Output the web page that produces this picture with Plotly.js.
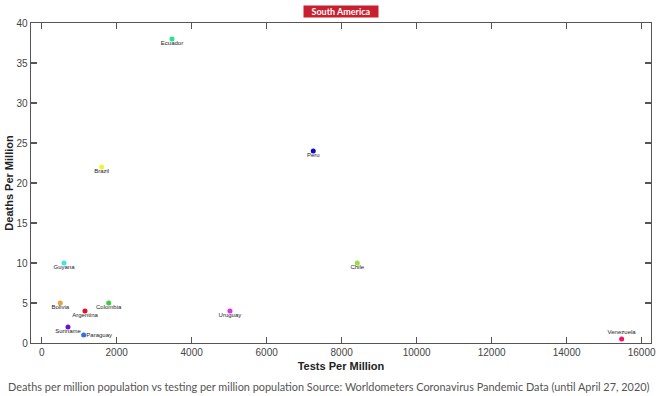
<!DOCTYPE html>
<html>
<head>
<meta charset="utf-8">
<script src="https://cdn.plot.ly/plotly-3.0.1.min.js"></script>
<style>
html,body{margin:0;padding:0;background:#fff;}
#chart{width:660px;height:396px;}
</style>
</head>
<body>
<div id="chart"></div>
<script>
var countries = ["Ecuador","Peru","Brazil","Guyana","Chile","Bolivia","Colombia","Argentina","Uruguay","Suriname","Paraguay","Venezuela"];
var testsPerMillion = [3475, 7243, 1600, 595, 8417, 496, 1787, 1155, 5021, 701, 1120, 15467];
var deathsPerMillion = [38, 24, 22, 10, 10, 5, 5, 4, 4, 2, 1, 0.5];
var pointColors = ["#1ee88a","#0a0ac8","#f2f23a","#3ae6e6","#9ade3a","#e8a040","#3ccc3c","#e0102a","#e030e0","#6414d2","#3070e0","#f5106a"];
var labelPositions = ["bottom center","bottom center","bottom center","bottom center","bottom center","bottom center","bottom center","bottom center","bottom center","bottom center","middle right","top center"];
var xTicks = [0,2000,4000,6000,8000,10000,12000,14000,16000];
var yTicks = [0,5,10,15,20,25,30,35,40];

// invisible spacer markers set the label gap per text position
var gapByPosition = {"bottom center": 1.2, "middle right": 2.6, "top center": 3.5};

var markerTrace = {
  type: "scatter",
  mode: "markers",
  x: testsPerMillion,
  y: deathsPerMillion,
  text: countries,
  marker: {color: pointColors, size: 5},
  hoverinfo: "x+y+text"
};
var labelTrace = {
  type: "scatter",
  mode: "markers+text",
  x: testsPerMillion,
  y: deathsPerMillion,
  text: countries,
  textposition: labelPositions,
  textfont: {family: "Liberation Sans, Arial, sans-serif", size: 6, color: "#222"},
  marker: {size: labelPositions.map(function(p){ return gapByPosition[p]; }), opacity: 0, color: "#fff"},
  hoverinfo: "skip"
};

var axisCommon = {
  showgrid: false, zeroline: false, showline: true, linecolor: "#555", linewidth: 1.3,
  mirror: "ticks", ticks: "inside", ticklen: 6, tickwidth: 1.3, tickcolor: "#555",
  tickfont: {family: "Liberation Sans, Arial, sans-serif", size: 10, color: "#444"}
};

var layout = {
  width: 660, height: 396,
  margin: {l: 31, r: 9, t: 23, b: 53},
  paper_bgcolor: "#fff", plot_bgcolor: "#fff",
  showlegend: false,
  xaxis: Object.assign({}, axisCommon, {
    range: [-285, 16250], tickvals: xTicks, ticktext: xTicks.map(String),
    title: {text: "<b>Tests Per Million</b>", font: {family: "Liberation Sans, Arial, sans-serif", size: 11, color: "#222"}, standoff: 5}
  }),
  yaxis: Object.assign({}, axisCommon, {
    range: [0, 40], tickvals: yTicks, ticktext: yTicks.map(String),
    title: {text: "<b>Deaths Per Million</b>", font: {family: "Liberation Sans, Arial, sans-serif", size: 11, color: "#222"}, standoff: 0}
  }),
  annotations: [
    {text: "<b>South America</b>", xref: "paper", yref: "paper", x: 0.5, y: 1, yshift: 12, xanchor: "center", yanchor: "middle",
     showarrow: false, bgcolor: "#c8202f", font: {family: "Lato, Open Sans, sans-serif", size: 9, color: "#fff"}, borderpad: 1, width: 72, height: 9},
    {text: "Deaths per million population vs testing per million population Source: Worldometers Coronavirus Pandemic Data (until April 27, 2020)",
     xref: "paper", yref: "paper", x: 0, xshift: -25, y: 0, yshift: -43, xanchor: "left", yanchor: "middle", showarrow: false,
     font: {family: "Lato, sans-serif", size: 10.9, color: "#555"}}
  ]
};

Plotly.newPlot("chart", [markerTrace, labelTrace], layout, {displayModeBar: false, staticPlot: true});
</script>
</body>
</html>
